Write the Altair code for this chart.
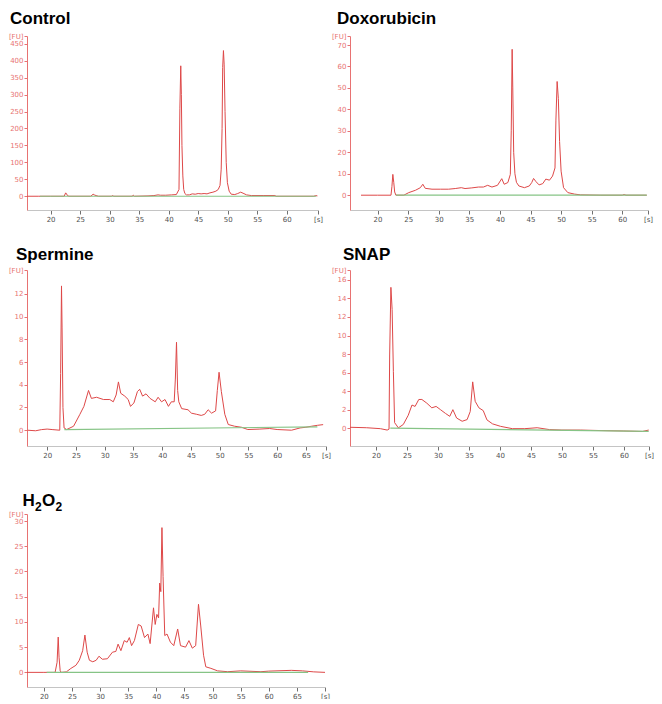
import altair as alt
import pandas as pd

# ---------------- data ----------------
ctrl_t = [16.0, 18.0, 20.0, 22.3, 22.55, 22.7, 22.85, 23.1,
          26.8, 27.2, 27.4, 27.7, 28.1,
          30.3, 30.5, 30.7,
          33.8, 34.0, 34.2,
          36.5, 37.5, 38.2, 38.6, 39.5, 40.5, 41.3,
          41.75, 41.9, 42.05, 42.15, 42.25, 42.4, 42.55, 42.75, 43.0,
          43.5, 44.0, 44.5, 45.0, 45.5, 46.0, 46.5, 47.0, 47.5, 48.0, 48.4, 48.7, 48.9,
          49.05, 49.15, 49.28, 49.4, 49.55, 49.75, 49.95, 50.25, 50.6,
          51.2, 51.7, 52.2, 52.6, 53.2, 54.0, 56.0, 58.0, 58.2,
          64.6, 64.9, 65.2]
ctrl_fu = [0, 0, 0, 0, 10, 7, 2, 0,
           0, 6, 4, 2, 0,
           0, 2, 0,
           0, 3, 0,
           1, 2, 4, 3, 3, 4, 5,
           20, 260, 385, 300, 150, 60, 20, 8, 4,
           4, 7, 6, 8, 7, 8, 7, 10, 12, 15, 20, 32, 80,
           200, 380, 430, 390, 250, 100, 40, 15, 6,
           5, 8, 12, 9, 4, 2, 2, 2, 0,
           0, 2, 1]
ctrl_base_t = [18.2, 65.0]
ctrl_base_fu = [0, 0]

doxo_t = [17.3, 20.0, 22.2, 22.35, 22.5, 22.65, 22.8, 23.0,
          24.3, 25.1, 26.2, 27.0, 27.4, 27.8, 28.9, 30.3, 31.6, 32.7,
          33.7, 34.3, 35.4, 36.5, 37.3, 38.0, 38.7, 39.6, 40.3, 40.7,
          41.3, 41.7, 41.85, 42.0, 42.1, 42.25, 42.45, 42.7, 43.1, 44.0,
          44.8, 45.2, 45.5, 45.9, 46.4, 47.0, 47.5, 48.1, 48.6, 49.0,
          49.15, 49.35, 49.55, 49.75, 50.0, 50.4, 51.1, 52.2, 53.2, 56.5,
          60.0, 60.3, 60.6, 64.0]
doxo_fu = [0, 0, 0, 4, 9.7, 6, 1.5, 0,
           0, 1.2, 2.3, 3.5, 5.1, 3.2, 2.8, 2.8, 2.8, 3.1,
           3.5, 3.1, 3.4, 3.8, 3.8, 4.6, 3.8, 4.6, 7.7, 5.1,
           5.9, 9.7, 30, 68, 50, 20, 10, 6, 4.3, 3.5,
           4.3, 5.9, 7.8, 6.3, 4.8, 5.4, 7.5, 7.0, 8.9, 12.7,
           35, 53, 45, 25, 11.2, 3.5, 1.2, 0.5, 0.15, 0,
           0, 0.3, 0, 0]
doxo_base_t = [23.0, 64.0]
doxo_base_fu = [0, 0]

sperm_t = [16.6, 18.0, 19.0, 20.0, 21.0, 22.2, 22.35, 22.5, 22.6, 22.75,
           22.95, 23.4, 24.6, 25.7, 26.4, 27.2, 27.7, 28.6, 29.8, 30.9,
           31.5, 32.0, 32.4, 32.8, 33.5, 34.1, 34.5, 35.1, 35.7, 36.1,
           36.6, 37.2, 37.9, 38.8, 39.3, 39.9, 40.5, 41.1, 41.6, 42.1,
           42.3, 42.5, 42.7, 42.9, 43.4, 44.5, 45.1, 46.0, 46.8, 47.4,
           48.0, 48.6, 49.3, 49.6, 49.9, 50.3, 50.9, 51.5, 52.6, 53.8,
           54.9, 57.0, 58.7, 60.0, 62.5, 64.0, 65.0, 66.0, 67.0, 68.0]
sperm_fu = [0, -0.05, 0.05, 0.1, 0.05, 0, 5, 12.7, 9, 2,
            0.2, 0.06, 0.35, 1.4, 2.1, 3.5, 2.8, 2.9, 2.7, 2.7,
            2.5, 3.1, 4.25, 3.25, 3.0, 2.7, 2.1, 2.4, 3.4, 3.6,
            3.0, 3.2, 2.8, 2.5, 2.9, 2.5, 2.7, 2.1, 2.5, 2.5,
            4.5, 7.74, 3.5, 2.5, 1.9, 1.8, 1.5, 1.4, 1.3, 1.4,
            1.8, 1.5, 1.7, 3.5, 5.1, 3.4, 1.4, 0.5, 0.35, 0.26,
            0.06, 0.1, 0.15, 0.06, 0.0, 0.2, 0.26, 0.35, 0.43, 0.49]
sperm_base_t = [23.0, 67.0]
sperm_base_fu = [0.05, 0.3]

snap_t = [15.8, 18.5, 20.7, 21.8, 22.1, 22.2, 22.4, 22.6, 22.8, 23.0,
          23.6, 24.4, 25.2, 25.8, 26.3, 26.9, 27.4, 28.2, 29.0, 29.7,
          30.4, 31.2, 31.9, 32.4, 33.0, 33.9, 34.7, 35.2, 35.6, 36.0,
          36.6, 37.3, 37.9, 38.8, 40.1, 42.0, 44.0, 46.0, 48.0, 50.0,
          53.0, 56.0, 60.0, 63.0, 64.0]
snap_fu = [0.1, 0.05, -0.05, -0.2, -0.1, 7.9, 15.2, 12.8, 6.1, 0.6,
           0.04, 0.4, 1.4, 2.5, 2.35, 3.1, 3.1, 2.7, 2.2, 2.35,
           2.0, 1.6, 1.28, 2.0, 1.1, 0.75, 0.93, 1.8, 5.0, 2.9,
           2.2, 1.9, 0.9, 0.47, 0.2, -0.05, -0.05, 0.05, -0.15, -0.2,
           -0.2, -0.25, -0.3, -0.35, -0.2]
snap_base_t = [22.3, 64.0]
snap_base_fu = [0, -0.35]

h2o2_t = [17.0, 20.0, 22.0, 22.35, 22.55, 22.7, 22.9, 23.1, 24.0, 24.8,
          25.7, 26.3, 26.9, 27.3, 27.7, 28.1, 28.7, 29.3, 29.8, 30.4,
          31.3, 32.2, 32.8, 33.2, 33.7, 34.3, 34.8, 35.2, 35.6, 36.1,
          36.8, 37.3, 37.9, 38.5, 38.9, 39.5, 39.8, 40.1, 40.4, 40.6,
          40.8, 41.0, 41.2, 41.5, 41.9, 42.5, 43.1, 43.8, 44.3, 45.2,
          45.8, 46.4, 47.0, 47.5, 47.9, 48.4, 48.8, 49.7, 50.9, 52.7,
          55.0, 58.6, 60.0, 64.0, 66.0, 68.0, 70.0]
h2o2_fu = [0, 0, 0, 2, 7, 3, 0.3, 0, 0.1, 0.78,
           1.4, 2.4, 4.3, 7.4, 4.0, 2.4, 2.1, 2.4, 3.2, 2.6,
           2.7, 4.0, 4.15, 5.6, 4.3, 6.3, 5.97, 6.9, 5.3, 6.3,
           9.5, 9.2, 6.9, 7.6, 5.7, 12.8, 9.5, 11.5, 10.8, 17.7,
           16.0, 28.7, 19.0, 7.3, 7.6, 6.0, 5.3, 8.6, 5.3, 5.0,
           6.3, 4.8, 5.3, 13.5, 9.2, 3.4, 1.1, 0.8, 0.3, 0.13,
           0.3, 0.13, 0.25, 0.4, 0.3, 0.1, 0]
h2o2_base_t = [20.5, 67.0]
h2o2_base_fu = [0, 0]

x_ticks_60 = [20, 25, 30, 35, 40, 45, 50, 55, 60]
x_ticks_65 = [20, 25, 30, 35, 40, 45, 50, 55, 60, 65]
ctrl_yticks = [0, 50, 100, 150, 200, 250, 300, 350, 400, 450]
doxo_yticks = [0, 10, 20, 30, 40, 50, 60, 70]
sperm_yticks = [0, 2, 4, 6, 8, 10, 12]
snap_yticks = [0, 2, 4, 6, 8, 10, 12, 14, 16]
h2o2_yticks = [0, 5, 10, 15, 20, 25, 30]

# title pieces: (text, dx from title origin, dy from baseline, font size)
ctrl_title = [("Control", 0, 0, 17)]
doxo_title = [("Doxorubicin", 0, 0, 17)]
sperm_title = [("Spermine", 0, 0, 17)]
snap_title = [("SNAP", 0, 0, 17)]
h2o2_title = [("H", 0, 0, 17), ("2", 12.5, 5, 12), ("O", 19.5, 0, 17), ("2", 33, 5, 12)]

# ---------------- styling ----------------
RED = "#de4848"
AXRED = "#e87272"
GREEN = "#86c486"
TICKFONT = "DejaVu Sans"


def panel(pieces, t, fu, bt, bfu, xdom, ydom, xticks, yticks, w, h, tdx, tdy, top):
    xs = alt.Scale(domain=xdom, nice=False, zero=False)
    ys = alt.Scale(domain=ydom, nice=False, zero=False)
    xeps = xdom[1] - 0.01
    yeps = ydom[1] - (ydom[1] - ydom[0]) * 0.001
    xa = alt.Axis(values=xticks + [xdom[1]],
                  labelExpr=f"datum.value >= {xeps} ? '[s]' : datum.label",
                  title=None, grid=False, domainColor="#c4c4c4", domainWidth=1,
                  tickColor="#707070", tickSize=4, labelColor="#505050",
                  labelFontSize=7, labelFont=TICKFONT, labelFlush=False,
                  labelOverlap=False, labelPadding=1)
    ya = alt.Axis(values=yticks + [ydom[1]],
                  labelExpr=f"datum.value >= {yeps} ? '[FU]' : datum.label",
                  title=None, grid=False, domainColor=AXRED, domainWidth=1,
                  tickColor=AXRED, tickSize=3, labelColor=AXRED,
                  labelFontSize=7, labelFont=TICKFONT, labelFlush=False,
                  labelOverlap=False, labelPadding=1)
    X = alt.X("t:Q", scale=xs, axis=xa)
    Y = alt.Y("fu:Q", scale=ys, axis=ya)
    trace = alt.Chart(pd.DataFrame({"t": t, "fu": fu})).mark_line(
        color=RED, strokeWidth=1, clip=True).encode(x=X, y=Y)
    base = alt.Chart(pd.DataFrame({"t": bt, "fu": bfu})).mark_line(
        color=GREEN, strokeWidth=1.2, clip=True).encode(x=X, y=Y)
    layers = [trace, base]
    for txt, dx, dy, size in pieces:
        layers.append(
            alt.Chart(pd.DataFrame({"s": [txt]})).mark_text(
                align="left", baseline="alphabetic", font="Liberation Sans",
                fontSize=size, fontWeight="bold", color="#000000"
            ).encode(x=alt.value(tdx + dx), y=alt.value(tdy + dy), text="s:N")
        )
    # invisible frame that fixes the panel's layout bounds
    frame = alt.Chart(pd.DataFrame({"a": [0]})).mark_rule(
        strokeOpacity=0, strokeWidth=0
    ).encode(x=alt.value(-19), x2=alt.value(w + 5),
             y=alt.value(-top), y2=alt.value(h + 12))
    layers.append(frame)
    return alt.layer(*layers).properties(width=w, height=h)


ctrl = panel(ctrl_title, ctrl_t, ctrl_fu, ctrl_base_t, ctrl_base_fu,
             [16.0, 65.3], [-40.6, 473], x_ticks_60, ctrl_yticks, 291, 174, -17, -12, 29)
doxo = panel(doxo_title, doxo_t, doxo_fu, doxo_base_t, doxo_base_fu,
             [15.5, 64.2], [-6.9, 74.2], x_ticks_60, doxo_yticks, 298, 174, -13, -12, 29)
sperm = panel(sperm_title, sperm_t, sperm_fu, sperm_base_t, sperm_base_fu,
              [16.5, 68.5], [-1.39, 14.1], x_ticks_65, sperm_yticks, 299, 176, -11, -10, 27)
snap = panel(snap_title, snap_t, snap_fu, snap_base_t, snap_base_fu,
             [15.8, 64.05], [-1.92, 17.07], x_ticks_60, snap_yticks, 299, 176, -7, -10, 27)
h2o2 = panel(h2o2_title, h2o2_t, h2o2_fu, h2o2_base_t, h2o2_base_fu,
             [17.0, 70.0], [-2.9, 31.4], x_ticks_65, h2o2_yticks, 298, 173, -4.5, -8, 35)

chart = alt.concat(
    ctrl, doxo, sperm, snap, h2o2, columns=2,
    spacing=alt.RowColnumber(row=21, column=0)
).properties(
    padding={"left": 0, "top": -1, "right": 0, "bottom": 0}
).configure_view(stroke=None)

chart.save("out.html", embed_options={"renderer": "svg", "actions": False})
